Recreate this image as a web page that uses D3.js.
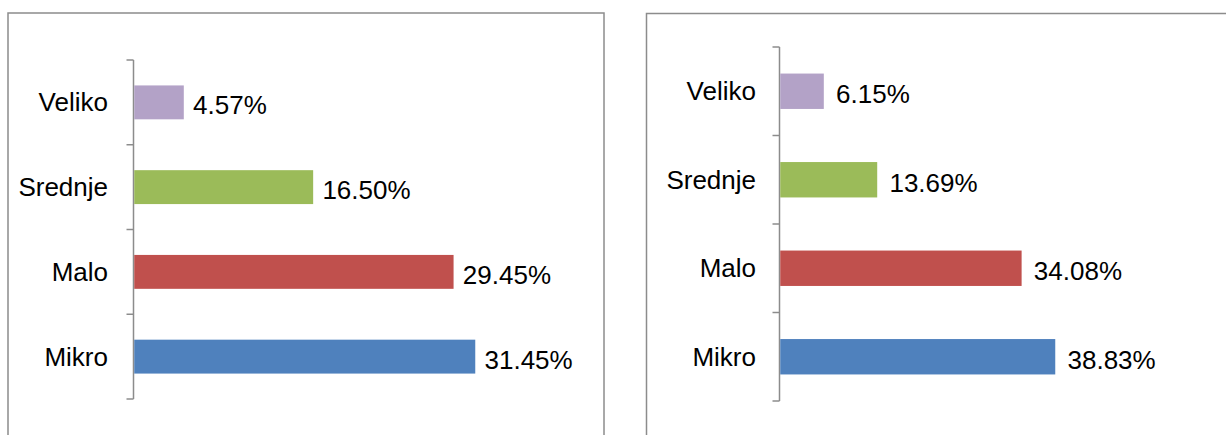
<!DOCTYPE html>
<html>
<head>
<meta charset="utf-8">
<script src="https://cdn.jsdelivr.net/npm/d3@7"></script>
<style>
  html, body { margin: 0; padding: 0; background: #fff; }
  svg { display: block; }
  text { font-family: "Liberation Sans", Arial, sans-serif; fill: #000; }
</style>
</head>
<body>
<svg id="chart" width="1226" height="435"></svg>
<script>
const categories = ["Veliko", "Srednje", "Malo", "Mikro"];
const leftValues = [4.57, 16.50, 29.45, 31.45];
const rightValues = [6.15, 13.69, 34.08, 38.83];
const colors = ["#B3A2C7", "#9BBB59", "#C0504D", "#4F81BD"];

const svg = d3.select("#chart");

function panel(cfg) {
  const g = svg.append("g");
  // frame
  g.append("rect")
    .attr("x", cfg.frame[0]).attr("y", cfg.frame[1])
    .attr("width", cfg.frame[2]).attr("height", cfg.frame[3])
    .attr("fill", "#fff").attr("stroke", "#8C8C8C").attr("stroke-width", 1.5);

  const y = d3.scaleBand().domain(categories).range([cfg.y0, cfg.y1]).paddingInner(0.6).paddingOuter(0.3);
  const yTicks = d3.scaleBand().domain(categories).range([cfg.y0, cfg.y1]);
  const x = d3.scaleLinear().domain([0, cfg.max]).range([cfg.x0, cfg.x1]);

  // axis line with ticks
  const ax = g.append("g");
  ax.append("line").attr("x1", cfg.x0).attr("x2", cfg.x0).attr("y1", cfg.y0).attr("y2", cfg.y1)
    .attr("stroke", "#8C8C8C").attr("stroke-width", 1.5);
  const tickYs = categories.map(c => yTicks(c)).concat([cfg.y1]);
  ax.selectAll("line.tk").data(tickYs).join("line").attr("class", "tk")
    .attr("x1", cfg.x0 - 7).attr("x2", cfg.x0).attr("y1", d => d).attr("y2", d => d)
    .attr("stroke", "#8C8C8C").attr("stroke-width", 1.5);

  // bars
  g.selectAll("rect.bar").data(cfg.values).join("rect").attr("class", "bar")
    .attr("x", cfg.x0 + 0.75)
    .attr("y", (d, i) => y(categories[i]))
    .attr("width", d => x(d) - cfg.x0)
    .attr("height", y.bandwidth())
    .attr("fill", (d, i) => colors[i]);

  // category labels
  g.selectAll("text.cat").data(categories).join("text").attr("class", "cat")
    .attr("x", cfg.labelX)
    .attr("y", d => y(d) + y.bandwidth() / 2)
    .attr("dy", "0.35em")
    .attr("text-anchor", "end")
    .style("font-size", "26px")
    .text(d => d);

  // value labels
  g.selectAll("text.val").data(cfg.values).join("text").attr("class", "val")
    .attr("x", d => x(d) + cfg.gap)
    .attr("y", (d, i) => y(categories[i]) + y.bandwidth() / 2 + 3)
    .attr("dy", "0.35em")
    .style("font-size", "26px")
    .text(d => d.toFixed(2) + "%");
}

panel({ frame: [8, 13, 596, 440], y0: 60, y1: 399, x0: 133.5, x1: 513, max: 35, values: leftValues, labelX: 108, gap: 10 });
panel({ frame: [646.5, 13.5, 600, 440], y0: 47, y1: 401, x0: 779.5, x1: 1098.2, max: 45, values: rightValues, labelX: 756, gap: 13 });
</script>
</body>
</html>
